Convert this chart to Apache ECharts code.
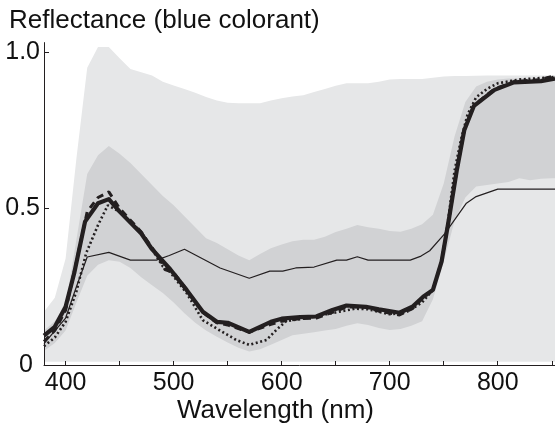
<!DOCTYPE html>
<html>
<head>
<meta charset="utf-8">
<script src="https://cdn.jsdelivr.net/npm/echarts@6/dist/echarts.min.js"></script>
<style>
html,body{margin:0;padding:0;background:#fff;}
#chart{width:555px;height:425px;}
</style>
</head>
<body>
<div id="chart"></div>
<script>
// ---- data ----
var bandWl = [380,390,400,410,420,430,440,450,460,470,480,490,500,510,520,530,540,550,560,570,580,590,600,610,620,630,640,650,660,670,680,690,700,710,720,730,740,750,760,770,780,790,800,810,820,830,840,850,853];
var lightLo = [0.01,0.01,0.01,0.01,0.01,0.01,0.01,0.01,0.01,0.01,0.01,0.01,0.01,0.01,0.01,0.01,0.01,0.01,0.01,0.01,0.01,0.01,0.01,0.01,0.01,0.01,0.01,0.01,0.01,0.01,0.01,0.01,0.01,0.01,0.01,0.01,0.01,0.01,0.01,0.01,0.01,0.01,0.01,0.01,0.01,0.01,0.01,0.01,0.01];
var lightHi = [0.17,0.215,0.34,0.66,0.95,1.016,1.016,0.98,0.946,0.935,0.925,0.905,0.893,0.882,0.87,0.856,0.845,0.838,0.836,0.836,0.836,0.845,0.852,0.858,0.862,0.872,0.882,0.892,0.9,0.9,0.9,0.905,0.912,0.914,0.914,0.914,0.918,0.922,0.923,0.923,0.924,0.925,0.925,0.925,0.925,0.925,0.925,0.925,0.925];
var darkLo = [0.045,0.07,0.11,0.2,0.285,0.32,0.335,0.33,0.31,0.28,0.255,0.23,0.2,0.165,0.135,0.11,0.09,0.072,0.055,0.043,0.05,0.065,0.08,0.095,0.1,0.105,0.11,0.115,0.125,0.133,0.128,0.118,0.112,0.115,0.125,0.14,0.21,0.33,0.46,0.535,0.57,0.575,0.58,0.585,0.597,0.59,0.595,0.597,0.597];
var darkHi = [0.11,0.14,0.19,0.4,0.61,0.67,0.7,0.675,0.645,0.61,0.575,0.54,0.51,0.475,0.44,0.405,0.39,0.37,0.35,0.335,0.355,0.373,0.385,0.395,0.4,0.4,0.41,0.425,0.435,0.447,0.44,0.435,0.428,0.426,0.435,0.45,0.48,0.58,0.73,0.84,0.89,0.905,0.912,0.915,0.915,0.915,0.917,0.918,0.918];

var solidWl = [380,390,400,408,418,430,440,450,470,480,497,512,527,540,550,570,590,600,617,632,647,660,678,690,709,721,731,740,748,755,762,769,778,797,815,840,853];
var solidV  = [0.094,0.122,0.186,0.294,0.458,0.517,0.53,0.49,0.42,0.37,0.305,0.24,0.17,0.138,0.135,0.106,0.138,0.148,0.153,0.155,0.176,0.19,0.186,0.178,0.167,0.186,0.218,0.24,0.33,0.47,0.62,0.75,0.828,0.879,0.903,0.907,0.915];

var dashWl = [380,390,400,410,420,430,440,450,470,487,492,500,512,527,540,550,570,590,600,617,632,647,660,678,690,709,721,731,740,748,755,762,769,778,797,815,840,853];
var dashV  = [0.075,0.11,0.175,0.33,0.49,0.535,0.553,0.5,0.425,0.34,0.305,0.295,0.24,0.168,0.135,0.128,0.105,0.13,0.14,0.148,0.15,0.168,0.185,0.185,0.172,0.16,0.18,0.215,0.24,0.33,0.47,0.62,0.75,0.83,0.882,0.905,0.912,0.925];

var dotWl = [380,390,400,410,419,430,439,450,470,490,496,512,527,543,558,570,586,595,604,620,650,668,680,700,715,730,740,748,754,760,766,772,780,790,800,820,853];
var dotV  = [0.06,0.088,0.138,0.235,0.357,0.447,0.51,0.49,0.425,0.315,0.3,0.23,0.143,0.11,0.08,0.064,0.08,0.112,0.14,0.148,0.168,0.18,0.178,0.162,0.168,0.2,0.24,0.33,0.46,0.62,0.72,0.8,0.855,0.882,0.9,0.912,0.92];

var thinWl = [380,400,410,420,440,460,484,496,510,543,570,589,601,613,630,651,660,670,680,719,729,737,751,771,780,800,853];
var thinV  = [0.068,0.15,0.25,0.345,0.36,0.335,0.335,0.35,0.37,0.31,0.277,0.3,0.3,0.31,0.313,0.335,0.335,0.346,0.335,0.335,0.348,0.365,0.42,0.517,0.538,0.562,0.562];

var xTicks = [400,450,500,550,600,650,700,750,800,850];
var xLabels = [400,500,600,700,800];
var yTicks = [0,0.5,1.0];

var titleText = 'Reflectance (blue colorant)';
var xTitle = 'Wavelength (nm)';

// ---- build ----
function pairs(xs, ys){ return xs.map(function(x,i){ return [x, ys[i]]; }); }

var ink = '#231f20';
var lightCol = '#e6e7e8';
var darkCol = '#d1d2d4';
var FONT = '"Liberation Sans", Arial, sans-serif';

function band(ys, col, z){
  return {type:'line', data: pairs(bandWl, ys), symbol:'none', lineStyle:{width:0, opacity:0},
          areaStyle:{color:col, opacity:1, origin:'start'}, silent:true, z:z};
}

var chart = echarts.init(document.getElementById('chart'), null, {renderer:'canvas'});
chart.setOption({
  animation: false,
  backgroundColor: '#fff',
  title: [
    {text: titleText, left: 4, top: 3, textStyle:{fontFamily:FONT, fontSize:26, fontWeight:'normal', color:'#111'}},
    {text: xTitle, left: 172, top: 393, textStyle:{fontFamily:FONT, fontSize:26, fontWeight:'normal', color:'#111'}}
  ],
  grid: {left: 44, right: 0, top: 42.6, bottom: 60, containLabel: false},
  xAxis: {
    type: 'value', min: 380, max: 853, z: 20,
    axisLine: {show: true, lineStyle: {color: ink, width: 1}},
    axisTick: {show: true, inside: true, length: 4, customValues: xTicks, lineStyle: {color: ink, width: 1}},
    axisLabel: {show: true, customValues: xLabels, margin: 6, fontFamily: FONT, fontSize: 25, color: '#111'},
    splitLine: {show: false}
  },
  yAxis: {
    type: 'value', min: 0, max: 1.03, z: 20,
    axisLine: {show: true, lineStyle: {color: ink, width: 1}},
    axisTick: {show: true, inside: true, length: 5, customValues: yTicks, lineStyle: {color: ink, width: 1}},
    axisLabel: {show: true, customValues: yTicks, margin: 4, fontFamily: FONT, fontSize: 25, color: '#111',
      formatter: function(v){ if (v === 0) return '{z|0}'; return v === 0.5 ? '0.5' : '1.0'; },
      rich: {z: {fontFamily: FONT, fontSize: 25, color: '#111', padding: [0, 7, 0, 0]}}
    },
    splitLine: {show: false}
  },
  series: [
    band(lightHi, lightCol, 1),
    band(darkHi, darkCol, 2),
    band(darkLo, lightCol, 3),
    band(lightLo, '#ffffff', 4),
    {type:'line', data: pairs(thinWl, thinV), symbol:'none', lineStyle:{color:ink, width:1.2}, z:5},
    {type:'line', data: pairs(dotWl, dotV), symbol:'none', lineStyle:{color:ink, width:2.6, type:[2,2.6], cap:'butt'}, z:6},
    {type:'line', data: pairs(dashWl, dashV), symbol:'none', lineStyle:{color:ink, width:3, type:[7,5], cap:'butt'}, z:7},
    {type:'line', data: pairs(solidWl, solidV), symbol:'none', lineStyle:{color:ink, width:4.2, join:'round'}, z:8}
  ]
});
</script>
</body>
</html>
